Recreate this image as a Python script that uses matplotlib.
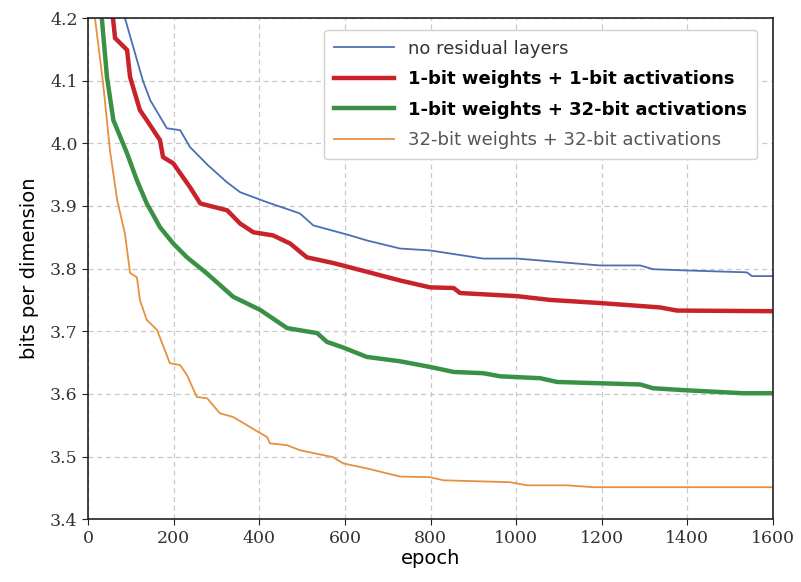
import matplotlib
matplotlib.use("Agg")
import matplotlib.pyplot as plt

# values (epoch, bits per dimension)
blue_x = [86, 128, 145, 184, 215, 238, 280, 324, 355, 418, 495, 526, 612, 651, 729,
          799, 923, 1002, 1196, 1290, 1320, 1400, 1539, 1551, 1600]
blue_y = [4.200, 4.100, 4.069, 4.024, 4.021, 3.994, 3.965, 3.938, 3.922, 3.906, 3.888, 3.869, 3.853, 3.845, 3.832,
          3.829, 3.816, 3.816, 3.805, 3.805, 3.799, 3.797, 3.794, 3.788, 3.788]

red_x = [58, 63, 91, 98, 121, 137, 168, 175, 199, 238, 262, 325, 355, 386, 432, 472, 511,
         572, 651, 729, 799, 854, 869, 1002, 1079, 1196, 1336, 1376, 1600]
red_y = [4.200, 4.168, 4.149, 4.106, 4.053, 4.037, 4.005, 3.978, 3.968, 3.930, 3.904, 3.893, 3.872, 3.858, 3.853, 3.840, 3.818,
         3.809, 3.795, 3.781, 3.770, 3.769, 3.761, 3.756, 3.750, 3.745, 3.738, 3.733, 3.732]

green_x = [32, 44, 59, 91, 114, 137, 168, 199, 231, 278, 339, 402, 465, 535, 558, 596, 651,
           729, 799, 854, 923, 963, 1056, 1096, 1290, 1320, 1390, 1530, 1600]
green_y = [4.200, 4.106, 4.037, 3.984, 3.941, 3.904, 3.866, 3.840, 3.818, 3.792, 3.755, 3.734, 3.705, 3.697, 3.683, 3.674, 3.659,
           3.652, 3.643, 3.635, 3.633, 3.628, 3.625, 3.619, 3.615, 3.609, 3.606, 3.601, 3.601]

orange_x = [16, 35, 51, 68, 86, 98, 114, 121, 137, 161, 191, 215, 231, 254, 278, 308, 339,
            371, 418, 425, 465, 495, 572, 596, 651, 729, 799, 830, 986, 1025, 1119, 1180, 1600]
orange_y = [4.200, 4.096, 3.989, 3.909, 3.856, 3.793, 3.786, 3.750, 3.718, 3.702, 3.649, 3.646, 3.630, 3.595, 3.593, 3.569, 3.563,
            3.550, 3.531, 3.521, 3.518, 3.510, 3.499, 3.489, 3.481, 3.468, 3.467, 3.462, 3.459, 3.454, 3.454, 3.451, 3.451]

labels = ["no residual layers",
          "1-bit weights + 1-bit activations",
          "1-bit weights + 32-bit activations",
          "32-bit weights + 32-bit activations"]

fig = plt.figure(figsize=(8.01, 5.82), dpi=100)
ax = fig.add_axes([0.110, 0.108, 0.855, 0.861])

ax.plot(blue_x, blue_y, color="#4a6fb3", lw=1.3, label=labels[0])
ax.plot(red_x, red_y, color="#c8232b", lw=3.2, label=labels[1])
ax.plot(green_x, green_y, color="#3a9146", lw=3.2, label=labels[2])
ax.plot(orange_x, orange_y, color="#e8903f", lw=1.3, label=labels[3])

ax.set_xlim(0, 1600)
ax.set_ylim(3.4, 4.2)
ax.set_xticks(range(0, 1601, 200))
ax.set_yticks([3.4, 3.5, 3.6, 3.7, 3.8, 3.9, 4.0, 4.1, 4.2])
ax.grid(True, linestyle=(0, (4, 3)), color="#c8c8c8", lw=0.9)
ax.set_axisbelow(True)

for lab in ax.get_xticklabels() + ax.get_yticklabels():
	lab.set_family("DejaVu Serif");
	lab.set_fontsize(12.5);
	lab.set_color("#333333");
ax.tick_params(direction="out", length=4, color="#222222")
for s in ax.spines.values():
	s.set_color("#222222");
	s.set_linewidth(1.2);

ax.set_xlabel("epoch", fontsize=14, labelpad=2)
ax.set_ylabel("bits per dimension", fontsize=14, labelpad=8)

leg = ax.legend(loc="upper right", fontsize=13, framealpha=1.0, edgecolor="#d0d0d0",
                borderpad=0.55, handlelength=3.3, labelspacing=0.7, bbox_to_anchor=(0.99, 0.995))
texts = leg.get_texts()
texts[1].set_fontweight("bold")
texts[2].set_fontweight("bold")
texts[0].set_color("#333333")
texts[3].set_color("#555555")

fig.savefig("out.png", dpi=100)
